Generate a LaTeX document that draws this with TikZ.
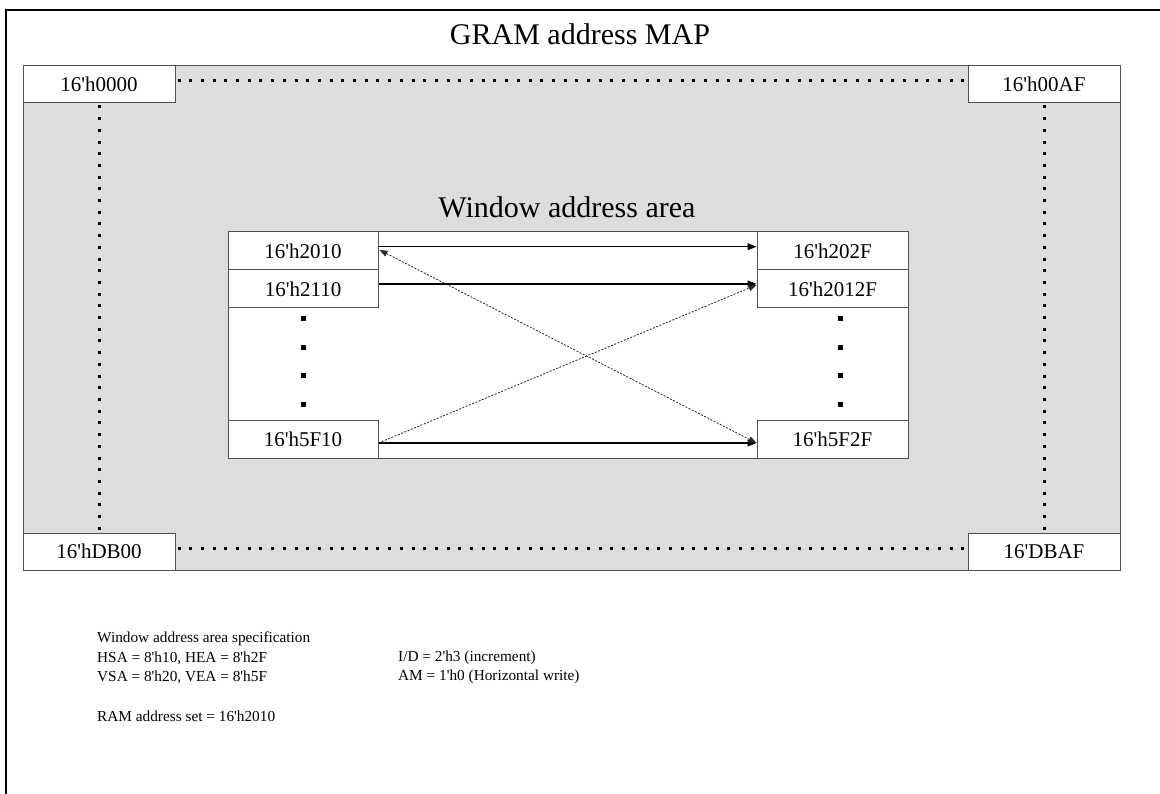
\documentclass[tikz,border=0pt]{standalone}
\usepackage{fontspec}
\setmainfont{Liberation Serif}[Ligatures=TeXOff]
\usetikzlibrary{arrows.meta}
\definecolor{areagray}{HTML}{DDDDDD}
\definecolor{edgegray}{HTML}{505050}
\begin{document}
\begin{tikzpicture}[x=1pt, y=-1pt,
    addr/.style={draw=edgegray, fill=white, line width=1pt, minimum height=37pt,
      inner sep=0pt, font=\fontsize{21}{21}\selectfont},
    bigtitle/.style={font=\fontsize{30}{30}\selectfont},
    spec/.style={anchor=west, inner sep=0pt, font=\fontsize{15.3}{15.3}\selectfont},
    dotline/.style={line width=3pt, dash pattern=on 3pt off 8.7pt, shorten <=2pt, shorten >=2pt},
    solidarrow/.style={->, >={Triangle[length=9pt,width=7pt]}, line width=1.1pt},
    dotarrow/.style={->, >={Triangle[length=8pt,width=6pt]}, line width=0.8pt,
      dash pattern=on 2pt off 1.5pt, draw=black!85}]
    \useasboundingbox (0,0) rectangle (1160,794);

    % outer frame
    \draw[line width=1.8pt] (6,794) -- (6,10) -- (1160,10);
    \node[bigtitle] (title) at (580,34) {GRAM address MAP};

    % GRAM area
    \draw[draw=edgegray, fill=areagray, line width=1pt] (23,66) rectangle (1120,570);
    \node[addr, minimum width=152pt] (tl) at (99,84.5) {16'h0000};
    \node[addr, minimum width=152pt] (tr) at (1044,84.5) {16'h00AF};
    \node[addr, minimum width=152pt] (bl) at (99,551.5) {16'hDB00};
    \node[addr, minimum width=152pt] (br) at (1044,551.5) {16'DBAF};

    \draw[dotline] ([yshift=4pt]tl.east) -- ([yshift=4pt]tr.west);
    \draw[dotline] ([yshift=3pt]bl.east) -- ([yshift=3pt]br.west);
    \draw[dotline] (tl.south) -- (bl.north);
    \draw[dotline] (tr.south) -- (br.north);

    % window area
    \node[bigtitle] (wtitle) at (567,207) {Window address area};
    \draw[draw=edgegray, fill=white, line width=1pt] (228,232) rectangle (908,458);
    \node[addr, minimum width=150pt, minimum height=38pt] (l1) at (303,251) {16'h2010};
    \node[addr, minimum width=150pt, minimum height=38pt] (l2) at (303,289) {16'h2110};
    \node[addr, minimum width=150pt, minimum height=38pt] (l3) at (303,439) {16'h5F10};
    \node[addr, minimum width=151pt, minimum height=38pt] (r1) at (832.5,251) {16'h202F};
    \node[addr, minimum width=151pt, minimum height=38pt] (r2) at (832.5,289) {16'h2012F};
    \node[addr, minimum width=151pt, minimum height=38pt] (r3) at (832.5,439) {16'h5F2F};

    \foreach \y in {319,347.5,376,404.5} {
        \fill (300.5,\y-2.5) rectangle ++(5,5);
        \fill (837.5,\y-2.5) rectangle ++(5,5);
    }

    \draw[solidarrow] ([yshift=4.3pt]l1.east) -- ([yshift=4.3pt]r1.west);
    \draw[solidarrow] ([yshift=5pt]l2.east) -- ([yshift=5pt]r2.west);
    \draw[solidarrow] ([yshift=-4pt]l3.east) -- ([yshift=-4pt]r3.west);
    \draw[dotarrow] ([yshift=-4pt]l3.east) -- ([yshift=4pt]r2.west);
    \draw[dotarrow, <->] ([xshift=1pt,yshift=1pt]l1.east) -- ([yshift=-4pt]r3.west);

    % specification text
    \node[spec] (spectitle) at (97,639) {Window address area specification};
    \node[spec] (hsa) at (97,658) {HSA = 8'h10, HEA = 8'h2F};
    \node[spec] (vsa) at (97,677) {VSA = 8'h20, VEA = 8'h5F};
    \node[spec] (ram) at (97,716) {RAM address set = 16'h2010};
    \node[spec] (idset) at (398,658) {I/D = 2'h3 (increment)};
    \node[spec] (amset) at (398,677) {AM = 1'h0 (Horizontal write)};
\end{tikzpicture}
\end{document}
